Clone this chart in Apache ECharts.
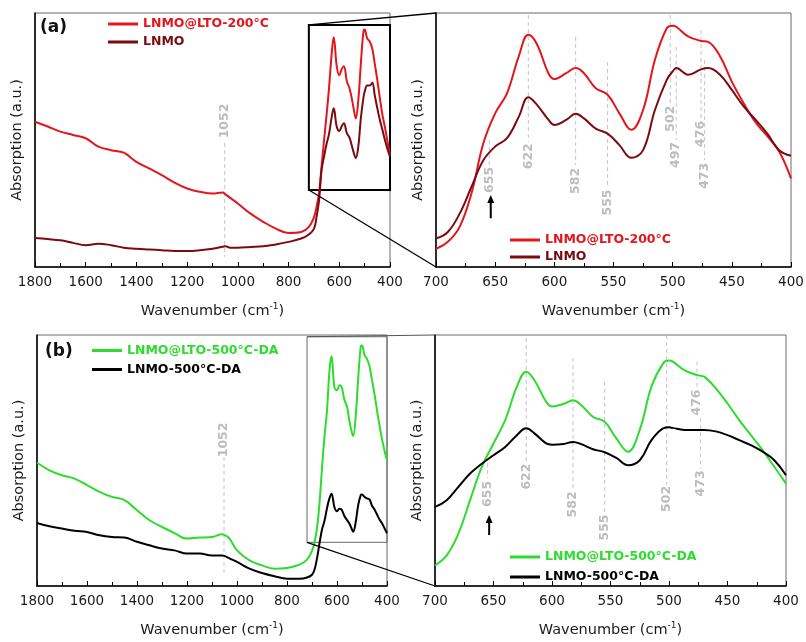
<!DOCTYPE html>
<html lang="en">
<head>
    <meta charset="UTF-8">
    <title>FTIR LNMO / LNMO@LTO</title>
    <script src="https://cdn.jsdelivr.net/npm/echarts@6/dist/echarts.min.js"></script>
    <style>
        html, body { margin: 0; padding: 0; background: #fff; }
        #main { width: 806px; height: 642px; }
    </style>
</head>
<body>
    <div id="main"></div>
    <script type="text/javascript">
        // wavenumbers (cm-1) of the full-range panels and of the zoomed panels
        var wnWide = [1800, 1750, 1700, 1650, 1600, 1550, 1500, 1450, 1400, 1350, 1300, 1250, 1200, 1150, 1100, 1060, 1050, 1030, 1000, 950, 900, 850, 800, 750, 720, 700, 690, 680, 670, 660, 650, 640, 630, 622, 610, 600, 590, 582, 570, 560, 550, 540, 535, 525, 515, 505, 500, 490, 480, 470, 460, 450, 440, 430, 420, 410, 400];
        var wnZoom = [700, 690, 680, 670, 660, 650, 640, 630, 622, 615, 605, 600, 590, 582, 575, 565, 555, 545, 535, 525, 515, 505, 500, 497, 487, 476, 470, 460, 450, 440, 430, 420, 410, 400];

        // (a) absorption, a.u.
        var aLto200Wide = [57.2, 55.3, 53.3, 52.0, 50.7, 47.4, 46.0, 45.0, 41.4, 38.8, 36.2, 33.2, 30.9, 29.6, 28.9, 29.3, 28.7, 27.2, 25.0, 21.0, 17.8, 15.1, 13.4, 13.8, 15.8, 19.5, 23.5, 29.0, 39.5, 50.0, 60.0, 71.0, 84.0, 90.5, 79.0, 75.5, 78.0, 79.0, 73.0, 70.5, 66.0, 60.5, 58.5, 65.7, 80.0, 92.5, 93.5, 90.0, 88.8, 86.0, 80.0, 73.6, 66.5, 60.0, 55.0, 49.5, 44.0];
        var aLnmoWide = [11.4, 11.0, 10.5, 9.5, 8.6, 9.2, 8.6, 7.6, 7.2, 6.9, 6.6, 6.3, 6.3, 6.6, 7.2, 8.0, 8.2, 7.6, 7.6, 7.9, 8.2, 8.9, 9.9, 11.2, 12.8, 15.0, 19.5, 26.0, 38.0, 43.5, 48.5, 52.6, 59.0, 62.5, 55.2, 53.5, 55.5, 56.6, 52.6, 51.0, 47.5, 44.0, 42.8, 47.4, 58.5, 66.5, 69.0, 71.5, 71.5, 72.5, 67.5, 62.5, 57.9, 54.0, 50.0, 46.5, 43.4];
        var aLto200Zoom = [7.2, 9.9, 15.8, 29.0, 48.7, 60.5, 68.4, 83.0, 91.4, 88.0, 76.3, 74.0, 76.3, 78.3, 76.3, 70.4, 67.8, 60.5, 54.0, 61.8, 81.6, 94.0, 95.0, 94.6, 90.8, 89.0, 88.6, 83.0, 73.0, 64.5, 57.0, 51.5, 45.5, 34.9];
        var aLnmoZoom = [11.2, 13.8, 21.0, 31.6, 42.0, 47.4, 50.7, 59.2, 66.8, 64.0, 58.0, 55.9, 57.9, 60.3, 58.5, 54.5, 52.5, 48.0, 43.0, 46.0, 61.8, 73.7, 77.0, 78.3, 75.7, 77.8, 78.3, 75.7, 69.7, 63.2, 58.0, 52.5, 46.0, 43.8];

        // (b) absorption, a.u.
        var bLto500Wide = [49.1, 46.1, 44.1, 42.8, 40.2, 37.5, 35.5, 34.2, 30.2, 26.2, 23.5, 21.1, 18.9, 19.3, 19.5, 20.6, 20.3, 18.9, 14.2, 10.2, 8.2, 6.9, 7.2, 8.5, 10.5, 14.0, 17.5, 23.0, 33.0, 47.0, 59.5, 70.0, 86.0, 91.5, 79.0, 78.0, 80.0, 79.5, 74.0, 71.5, 65.5, 61.0, 59.8, 68.0, 83.0, 95.5, 95.8, 92.0, 90.5, 87.5, 82.0, 76.5, 70.0, 64.0, 58.5, 54.0, 50.0];
        var bLnmo500Wide = [25.1, 23.8, 22.9, 22.0, 21.5, 20.2, 19.5, 19.3, 17.6, 16.2, 14.9, 14.2, 12.9, 12.9, 12.2, 12.2, 12.0, 11.0, 9.6, 6.9, 5.2, 3.9, 2.9, 2.9, 3.4, 4.5, 6.5, 11.0, 17.0, 22.5, 26.0, 31.0, 35.0, 36.8, 31.3, 29.8, 30.8, 30.5, 27.8, 26.3, 24.8, 22.5, 21.6, 25.6, 32.3, 36.2, 36.5, 35.5, 34.9, 34.5, 32.0, 30.5, 28.5, 26.5, 25.0, 23.0, 21.0];
        var bLto500Zoom = [8.2, 12.2, 20.9, 34.2, 47.5, 56.8, 66.1, 79.4, 85.4, 82.0, 73.4, 71.5, 72.6, 74.0, 72.0, 67.4, 65.4, 58.8, 53.5, 62.2, 79.4, 88.7, 89.8, 89.5, 86.0, 84.0, 83.4, 78.7, 72.7, 66.1, 60.1, 54.1, 47.5, 40.8];
        var bLnmo500Zoom = [31.5, 34.2, 39.5, 44.8, 48.7, 52.1, 55.4, 60.1, 62.8, 60.8, 56.8, 56.3, 56.6, 57.4, 56.5, 54.5, 53.3, 51.0, 48.1, 50.1, 58.1, 62.8, 63.2, 63.0, 62.2, 62.2, 62.2, 61.6, 60.1, 58.1, 56.1, 53.5, 50.1, 44.1];

        // band positions marked with dashed lines
        var peaksWide = [1052];
        var peaksZoomA = [655, 622, 582, 555, 502, 497, 476, 473];
        var peaksZoomB = [655, 622, 582, 555, 502, 476, 473];

        var namesA = ['LNMO@LTO-200°C', 'LNMO'];
        var namesB = ['LNMO@LTO-500°C-DA', 'LNMO-500°C-DA'];

        // ---- layout (not data) ----
        var FONT = 'DejaVu Sans';
        var RED = '#e3161d', DARK = '#7a0b10', GREEN = '#2edc2e', BLACK = '#000000';
        // where the dashed line runs and where its label sits, in y-axis units
        var marksWide = [{ line: [48.8, 3.9], text: 57.5 }];
        var marksWideB = [{ line: [51.4, 5.2], text: 58.2 }];
        var marksA = [
            { line: [50, 40.2], text: 34.3, arrow: [19.2, 28.3] },
            { line: [99.2, 49.2], text: 43.6 },
            { line: [90.6, 40.2], text: 33.9 },
            { line: [80.7, 31.1], text: 25.4 },
            { line: [99.2, 63.8], text: 58.4 },
            { line: [86.7, 50], text: 44.1 },
            { line: [93.3, 57.2], text: 52.4 },
            { line: [81.5, 42.1], text: 35.9 }
        ];
        var marksB = [
            { line: [49, 43], text: 36.7, arrow: [20.3, 28.3] },
            { line: [98.8, 49.4], text: 43.6 },
            { line: [90.8, 38.2], text: 32.5 },
            { line: [81.3, 29.1], text: 23.3 },
            { line: [100, 40.2], text: 34.7 },
            { line: [89.4, 79.4], text: 73.1 },
            { line: [66.8, 46.9], text: 40.9 }
        ];
        // zoom window drawn on the full-range panels
        var boxA = { from: 720, to: 400, low: 30.3, high: 95.3 };
        var boxB = { from: 720, to: 400, low: 17.4, high: 99.3 };

        var chart = echarts.init(document.getElementById('main'));

        function pairs(xs, ys) {
            return xs.map(function (x, i) { return [x, ys[i]]; });
        }

        function xAxisFor(i, wide) {
            return {
                gridIndex: i, type: 'value', inverse: true,
                min: 400, max: wide ? 1800 : 700, interval: wide ? 200 : 50,
                name: 'Wavenumber (cm{sup|-1})', nameLocation: 'middle', nameGap: 35,
                nameTextStyle: {
                    color: '#1a1a1a', fontSize: 14.5, fontFamily: FONT, lineHeight: 18,
                    rich: { sup: { fontSize: 9, fontFamily: FONT, color: '#1a1a1a', verticalAlign: 'top', lineHeight: 18 } }
                },
                axisLine: { show: true, onZero: false, lineStyle: { color: '#000', width: 1.5 } },
                axisTick: { show: true, inside: true, length: 5, lineStyle: { color: '#000' } },
                minorTick: { show: true, splitNumber: 2, length: 4, lineStyle: { color: '#000' } },
                axisLabel: {
                    color: '#1a1a1a', fontSize: 13.5, fontFamily: FONT, margin: 8,
                    formatter: function (v) { return String(v); }
                },
                splitLine: { show: false }
            };
        }

        function yAxisFor(i) {
            return {
                gridIndex: i, type: 'value', min: 0, max: 100,
                name: 'Absorption (a.u.)', nameLocation: 'middle', nameGap: 10,
                nameTextStyle: { color: '#1a1a1a', fontSize: 14.5, fontFamily: FONT },
                axisLine: { show: true, onZero: false, lineStyle: { color: '#000', width: 1.5 } },
                axisTick: { show: false },
                axisLabel: { show: false },
                splitLine: { show: false }
            };
        }

        function curve(name, color, gi, xs, ys) {
            return {
                name: name, type: 'line', xAxisIndex: gi, yAxisIndex: gi,
                data: pairs(xs, ys), symbol: 'none', showSymbol: false, smooth: 0.4,
                lineStyle: { color: color, width: 2 }, itemStyle: { color: color },
                silent: true, z: 3
            };
        }

        function peaks(gi, list, marks) {
            return {
                type: 'custom', xAxisIndex: gi, yAxisIndex: gi, silent: true, z: 1,
                data: list.map(function (w) { return [w, 0]; }),
                encode: { x: 0, y: 1 },
                renderItem: function (params, api) {
                    var w = api.value(0);
                    var m = marks[params.dataIndex];
                    var p1 = api.coord([w, m.line[0]]);
                    var p2 = api.coord([w, m.line[1]]);
                    var t = api.coord([w, m.text]);
                    var kids = [{
                        type: 'line',
                        shape: { x1: p1[0], y1: p1[1], x2: p2[0], y2: p2[1] },
                        style: { stroke: '#c4c4c4', lineWidth: 1, lineDash: [4, 3] }
                    }, {
                        type: 'text', x: t[0], y: t[1], rotation: Math.PI / 2,
                        style: {
                            text: String(w), fill: '#bdbdbd', font: 'bold 12.5px ' + FONT,
                            align: 'center', verticalAlign: 'middle'
                        }
                    }];
                    if (m.arrow) {
                        var tail = api.coord([w, m.arrow[0]]);
                        var tip = api.coord([w, m.arrow[1]]);
                        var ax = tip[0] + 1.5;
                        kids.push({
                            type: 'line',
                            shape: { x1: ax, y1: tail[1], x2: ax, y2: tip[1] + 6 },
                            style: { stroke: '#000', lineWidth: 2 }
                        }, {
                            type: 'polygon',
                            shape: { points: [[ax, tip[1]], [ax - 3.5, tip[1] + 8], [ax + 3.5, tip[1] + 8]] },
                            style: { fill: '#000' }
                        });
                    }
                    return { type: 'group', children: kids };
                }
            };
        }

        function legendFor(names, colors, left, top, gap) {
            return {
                orient: 'vertical', left: left, top: top, padding: 0, itemGap: gap,
                itemWidth: 30, itemHeight: 3, icon: 'rect', selectedMode: false,
                textStyle: { fontFamily: FONT, fontSize: 12.5, fontWeight: 'bold', lineHeight: 15 },
                data: names.map(function (n, i) { return { name: n, textStyle: { color: colors[i] } }; })
            };
        }

        function boxArea(box, color, width) {
            return {
                silent: true, label: { show: false },
                itemStyle: { color: 'rgba(0,0,0,0)', borderColor: color, borderWidth: width },
                data: [[{ coord: [box.from, box.high] }, { coord: [box.to, box.low] }]]
            };
        }

        var gridBox = { show: true, borderColor: '#6a6a6a', borderWidth: 1, backgroundColor: 'transparent', outerBoundsMode: 'none' };

        var s0 = curve(namesA[0], RED, 0, wnWide, aLto200Wide);
        s0.markArea = boxArea(boxA, '#000', 2);
        var s4 = curve(namesB[0], GREEN, 2, wnWide, bLto500Wide);
        s4.markArea = boxArea(boxB, '#6a6a6a', 1);

        var option = {
            animation: false,
            backgroundColor: '#fff',
            grid: [
                Object.assign({ left: 35, top: 13, width: 355, height: 254 }, gridBox),
                Object.assign({ left: 436, top: 13, width: 355, height: 254 }, gridBox),
                Object.assign({ left: 37, top: 335, width: 350, height: 251 }, gridBox),
                Object.assign({ left: 435, top: 335, width: 351, height: 251 }, gridBox)
            ],
            xAxis: [xAxisFor(0, true), xAxisFor(1, false), xAxisFor(2, true), xAxisFor(3, false)],
            yAxis: [yAxisFor(0), yAxisFor(1), yAxisFor(2), yAxisFor(3)],
            legend: [
                legendFor(namesA, [RED, DARK], 108, 16.5, 3),
                legendFor(namesA, [RED, DARK], 510, 232.5, 2),
                legendFor(namesB, [GREEN, BLACK], 92, 343, 4),
                legendFor(namesB, [GREEN, BLACK], 510, 549.5, 5)
            ],
            graphic: [
                { id: 'tagA', type: 'text', left: 40, top: 19, silent: true, style: { text: '(a)', font: 'bold 17px ' + FONT, fill: '#111' } },
                { id: 'tagB', type: 'text', left: 45, top: 343, silent: true, style: { text: '(b)', font: 'bold 17px ' + FONT, fill: '#111' } }
            ],
            series: [
                s0,
                curve(namesA[1], DARK, 0, wnWide, aLnmoWide),
                curve(namesA[0], RED, 1, wnZoom, aLto200Zoom),
                curve(namesA[1], DARK, 1, wnZoom, aLnmoZoom),
                s4,
                curve(namesB[1], BLACK, 2, wnWide, bLnmo500Wide),
                curve(namesB[0], GREEN, 3, wnZoom, bLto500Zoom),
                curve(namesB[1], BLACK, 3, wnZoom, bLnmo500Zoom),
                peaks(0, peaksWide, marksWide),
                peaks(1, peaksZoomA, marksA),
                peaks(2, peaksWide, marksWideB),
                peaks(3, peaksZoomB, marksB)
            ]
        };
        chart.setOption(option);

        // lines joining the zoom window to the zoomed panel
        function px(gi, pt) {
            return chart.convertToPixel({ gridIndex: gi }, pt);
        }
        var links = [
            [px(0, [boxA.from, boxA.high]), px(1, [700, 100]), '#000', 1.3],
            [px(0, [boxA.from, boxA.low]), px(1, [700, 0]), '#000', 1.3],
            [px(2, [boxB.from, boxB.high]), px(3, [700, 100]), '#555', 1],
            [px(2, [boxB.from, boxB.low]), px(3, [700, 0]), '#000', 1.3]
        ];
        chart.setOption({
            graphic: links.map(function (l, i) {
                return {
                    id: 'link' + i, type: 'line', silent: true, z: 10,
                    shape: { x1: l[0][0], y1: l[0][1], x2: l[1][0], y2: l[1][1] },
                    style: { stroke: l[2], lineWidth: l[3] }
                };
            })
        });
        window.onresize = chart.resize;
    </script>
</body>
</html>
